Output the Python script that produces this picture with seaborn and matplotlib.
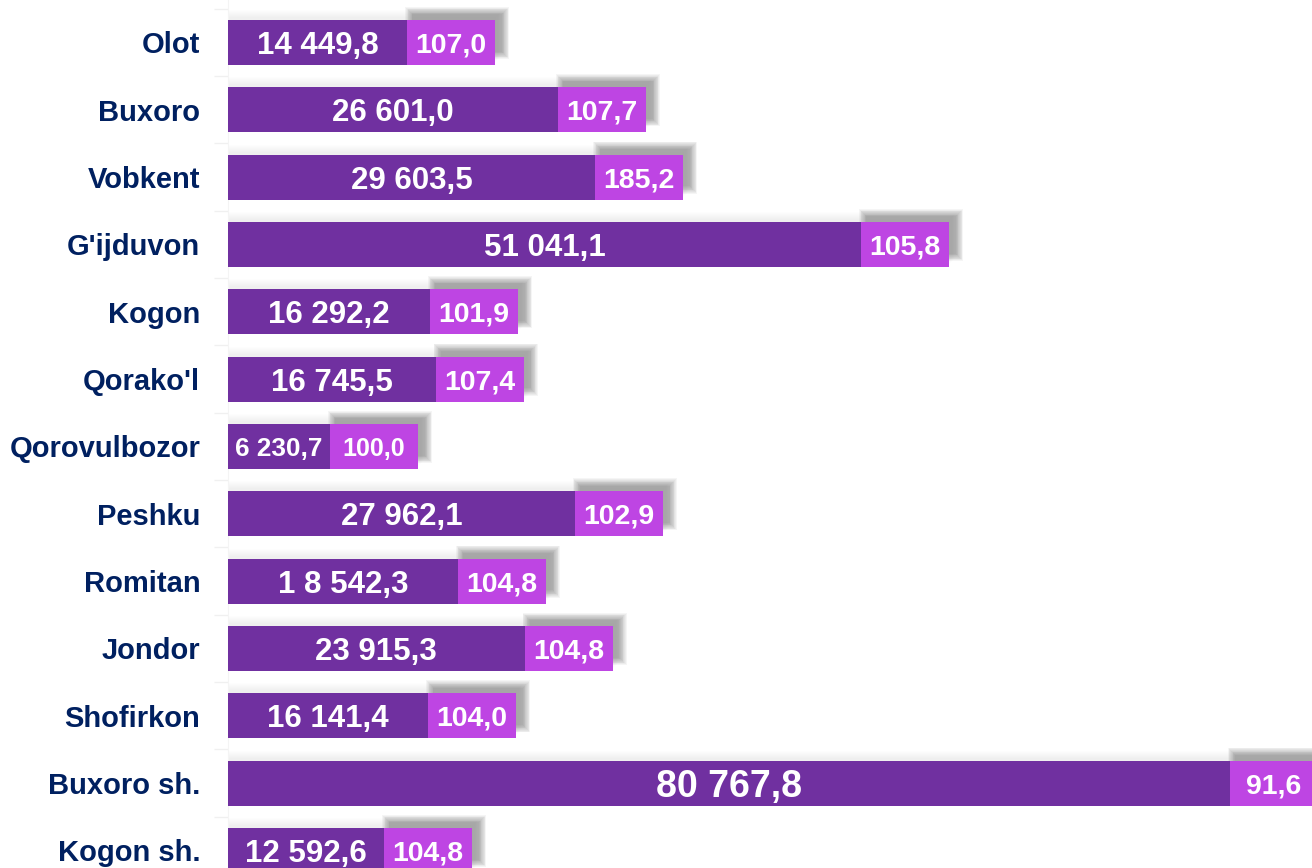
import numpy as np
import pandas as pd
import matplotlib
matplotlib.use("Agg")
import matplotlib.pyplot as plt
from matplotlib.patches import Rectangle
import seaborn as sns

# dados (tumanlar)
tumanlar = ['Olot', 'Buxoro', 'Vobkent', "G'ijduvon", 'Kogon', "Qorako'l", 'Qorovulbozor',
            'Peshku', 'Romitan', 'Jondor', 'Shofirkon', 'Buxoro sh.', 'Kogon sh.']
# length of the dark bars
hajm = [14449.8, 26601.0, 29603.5, 51041.1, 16292.2, 16745.5, 8230.0,
        27962.1, 18542.3, 23915.3, 16141.4, 80767.8, 12592.6]
hajm_yorliq = ['14 449,8', '26 601,0', '29 603,5', '51 041,1', '16 292,2', '16 745,5', '6 230,7',
               '27 962,1', '1 8 542,3', '23 915,3', '16 141,4', '80 767,8', '12 592,6']
# second segment: constant width in the picture, labelled with growth rate
osish = [7100] * 13
osish_yorliq = ['107,0', '107,7', '185,2', '105,8', '101,9', '107,4', '100,0',
                '102,9', '104,8', '104,8', '104,0', '91,6', '104,8']

df = pd.DataFrame({'tuman': tumanlar, 'hajm': hajm, 'osish': osish})
df['jami'] = df['hajm'] + df['osish']

plt.rcParams['font.family'] = ['Liberation Sans', 'DejaVu Sans']
fig = plt.figure(figsize=(13.12, 8.68), dpi=100)
ax = fig.add_axes([228 / 1312, 0, 1 - 228 / 1312, 1])

# soyalar (shadow), soft layered rectangles
px_x = 87400 / 1084
px_y = 1 / 67.33
h = 0.668
for i, r in df.iterrows():
    # faint band above whole bar
    for k in range(8):
        ax.add_patch(Rectangle((0, i - h / 2 - (10 - k) * px_y), r['jami'] + (8 - k) * px_x, h,
                               color='#cccccc', alpha=0.035, lw=0, zorder=1))
    # darker blurred shadow behind the right segment
    for k in range(10):
        g = (10 - k) * 0.8
        ax.add_patch(Rectangle((r['hajm'] + (6 - g) * px_x, i - h / 2 + (-5 - g) * px_y),
                               r['osish'] + 2 * g * px_x, (h / px_y * 0.8 + 2 * g) * px_y,
                               color='#444444', alpha=0.05, lw=0, zorder=1))

sns.barplot(data=df, y='tuman', x='jami', color='#BE45E3', orient='h', width=h,
            saturation=1, ax=ax, zorder=2, edgecolor='none')
sns.barplot(data=df, y='tuman', x='hajm', color='#7030A0', orient='h', width=h,
            saturation=1, ax=ax, zorder=3, edgecolor='none')

for i, r in df.iterrows():
    fs1 = 22.5
    fs2 = 20.5
    if r['tuman'] == 'Buxoro sh.':
        fs1 = 27
    if r['tuman'] == 'Qorovulbozor':
        fs1 = 18.8
        fs2 = 18
    ax.text(r['hajm'] / 2, i, hajm_yorliq[i], color='white', fontsize=fs1,
            fontweight='bold', ha='center', va='center_baseline', zorder=5)
    ax.text(r['hajm'] + r['osish'] / 2, i, osish_yorliq[i], color='white', fontsize=fs2,
            fontweight='bold', ha='center', va='center_baseline', zorder=5)

ax.set_xlim(0, 87400)
ax.set_ylim(12 + 0.26, -0.63)
ax.set_xlabel('')
ax.set_ylabel('')
ax.set_xticks([])
ax.set_yticks(range(len(tumanlar)))
ax.set_yticklabels(tumanlar, fontsize=21, fontweight='bold', color='#002060')
ax.set_yticks(np.arange(-0.5, 12.5, 1), minor=True)
ax.tick_params(axis='y', which='major', length=0, pad=20)
ax.tick_params(axis='y', which='minor', length=10, color='#f0f0f0', width=1)
for s in ['top', 'right', 'bottom']:
    ax.spines[s].set_visible(False)
ax.spines['left'].set_color('#f4f4f4')

fig.savefig('out.png', dpi=100)
